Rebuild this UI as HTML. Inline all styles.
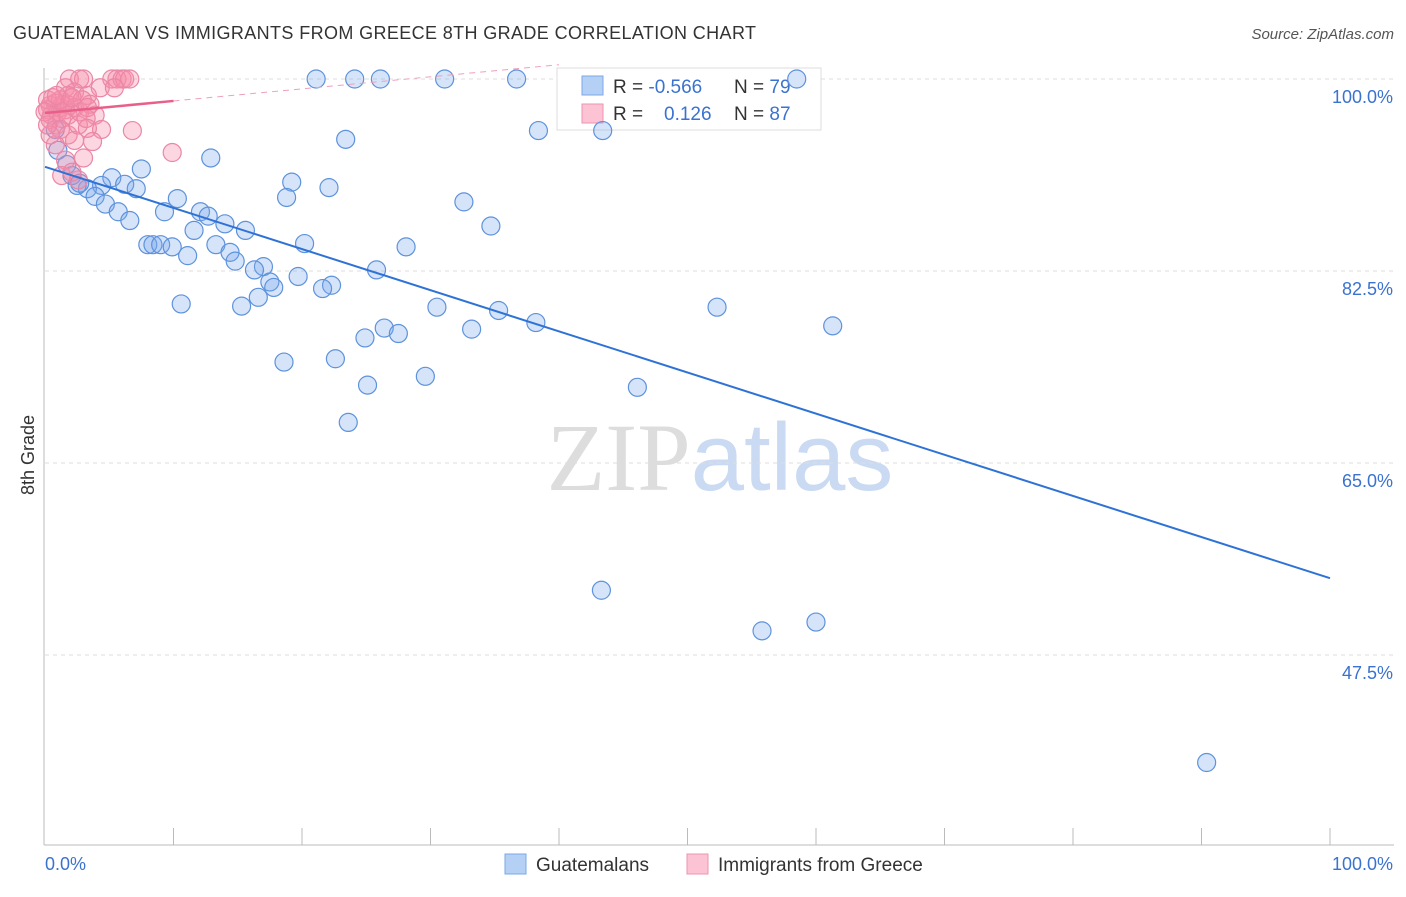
<!DOCTYPE html>
<html><head><meta charset="utf-8"><style>
body{margin:0;background:#fff;font-family:"Liberation Sans",sans-serif}
</style></head><body>
<svg id="c" width="1406" height="892" xmlns="http://www.w3.org/2000/svg" font-family="Liberation Sans, sans-serif">
<text x="13" y="39" font-size="18" fill="#333" textLength="743" lengthAdjust="spacing">GUATEMALAN VS IMMIGRANTS FROM GREECE 8TH GRADE CORRELATION CHART</text>
<text x="1394" y="39" font-size="15" fill="#555" text-anchor="end" font-style="italic">Source: ZipAtlas.com</text>
<text x="720" y="490" font-size="96" text-anchor="middle"><tspan fill="#ddd" font-family="Liberation Serif, serif">ZIP</tspan><tspan fill="#c9daf2">atlas</tspan></text>
<text transform="translate(34,455) rotate(-90)" font-size="18" fill="#333" text-anchor="middle">8th Grade</text>
<g id="grid"></g><g id="axes"></g>
<g>
<rect x="557" y="68" width="264" height="62" fill="#fff" stroke="#ddd"/>
<rect x="582" y="76" width="21" height="19" fill="#b5d0f5" stroke="#7aa7e6"/>
<rect x="582" y="104" width="21" height="19" fill="#fcc3d4" stroke="#ee93b0"/>
<text x="613" y="93" font-size="19" fill="#333">R = <tspan fill="#3a72d0">-0.566</tspan><tspan x="734">N = </tspan><tspan fill="#3a72d0">79</tspan></text>
<text x="613" y="120" font-size="19" fill="#333">R = <tspan x="664" fill="#3a72d0">0.126</tspan><tspan x="734">N = </tspan><tspan fill="#3a72d0">87</tspan></text>
</g>
<g id="marks"></g>
<g>
<rect x="505" y="854" width="21" height="20" fill="#b5d0f5" stroke="#7aa7e6"/>
<text x="536" y="871" font-size="19" fill="#333">Guatemalans</text>
<rect x="687" y="854" width="21" height="20" fill="#fcc3d4" stroke="#ee93b0"/>
<text x="718" y="871" font-size="19" fill="#333">Immigrants from Greece</text>
</g>
</svg>
<script>
const yTicks=[100,82.5,65,47.5];
const yTickLabels=["100.0%","82.5%","65.0%","47.5%"];
const xTickLabels=["0.0%","100.0%"];
const blueX=[21.1,24.1,26.1,31.1,36.7,58.5,38.4,43.4,23.4,12.9,7.5,5.2,6.2,7.1,4.4,3.3,2.5,3.9,19.2,22.1,18.8,10.3,4.7,5.7,9.3,12.1,12.7,6.6,14.0,15.6,11.6,32.6,34.7,8.0,8.4,9.0,9.9,13.3,14.4,11.1,14.8,20.2,28.1,17.0,16.3,25.8,19.7,17.5,17.8,22.3,21.6,16.6,10.6,15.3,30.5,35.3,52.3,38.2,61.3,33.2,26.4,27.5,24.9,18.6,22.6,29.6,25.1,46.1,23.6,43.3,55.8,60.0,90.4,1.0,1.7,2.1,0.8,2.7];
const blueY=[100,100,100,100,100,100,95.3,95.3,94.5,92.8,91.8,91.0,90.4,90.0,90.3,90.0,90.3,89.3,90.6,90.1,89.2,89.1,88.6,87.9,87.9,87.9,87.5,87.1,86.8,86.2,86.2,88.8,86.6,84.9,84.9,84.9,84.7,84.9,84.2,83.9,83.4,85.0,84.7,82.9,82.6,82.6,82.0,81.5,81.0,81.2,80.9,80.1,79.5,79.3,79.2,78.9,79.2,77.8,77.5,77.2,77.3,76.8,76.4,74.2,74.5,72.9,72.1,71.9,68.7,53.4,49.7,50.5,37.7,93.5,92.2,91.2,95.4,90.5];
const pinkX=[1.9,2.7,3.0,5.2,5.6,6.0,6.2,6.6,4.3,5.4,1.6,2.3,3.3,0.4,0.8,1.2,0.2,0.5,1.0,1.4,1.6,1.9,2.3,0.4,0.9,1.3,1.8,2.7,3.5,3.9,1.2,1.8,2.3,1.6,1.3,2.6,0.8,0.4,1.2,1.8,2.9,0.2,0.6,0.9,0,0.2,2.1,3.3,2.6,3.2,4.4,6.8,3.3,3.7,3.0,9.9,2.1];
const pinkY=[100,100,100,100,100,100,100,100,99.2,99.2,99.2,98.8,98.5,97.6,97.8,97.4,97.2,96.7,97.0,97.7,97.2,97.6,97.4,96.3,95.8,96.4,96.7,97.0,97.7,96.7,95.4,94.9,94.4,92.6,91.2,90.8,94.0,94.9,98.1,98.5,98.1,98.1,98.3,98.5,97.0,95.8,98.3,97.4,95.8,96.4,95.4,95.3,95.5,94.3,92.8,93.3,91.5];
const blueTrend=[92.0,54.5];
const pinkTrend=[96.9,98.0];
const NS="http://www.w3.org/2000/svg";
const sx=v=>45+v*12.85, sy=v=>79+(100-v)*192/17.5;
function mk(t,a,p){const e=document.createElementNS(NS,t);for(const k in a)e.setAttribute(k,a[k]);document.getElementById(p).appendChild(e);return e;}
yTicks.forEach((v,i)=>{
 const g=mk('line',{x1:45,x2:1394,y1:sy(v),y2:sy(v),stroke:'#ddd','stroke-dasharray':'4,4'},'grid');
 
 
 const t=mk('text',{x:1393,y:sy(v)+24,'font-size':18,fill:'#3a72d0','text-anchor':'end'},'grid');
 t.textContent=yTickLabels[i];
 
 
});
let ax=mk('line',{x1:44,x2:44,y1:68,y2:845,stroke:'#bbb'},'axes');


ax=mk('line',{x1:44,x2:1394,y1:845,y2:845,stroke:'#bbb'},'axes');


for(let k=1;k<=10;k++){const l=mk('line',{x1:sx(k*10),x2:sx(k*10),y1:828,y2:845,stroke:'#bbb'},'axes');
 
 }
[[0,'start',45],[100,'end',1393]].forEach((d,i)=>{const t=mk('text',{x:d[2],y:870,'font-size':18,fill:'#3a72d0','text-anchor':d[1]},'axes');t.textContent=xTickLabels[i];
 
 });
blueX.forEach((x,i)=>{const c=mk('circle',{cx:sx(x),cy:sy(blueY[i]),r:9,fill:'rgba(120,165,235,0.3)',stroke:'#5d92dc','stroke-width':1.2},'marks');
 
 });
pinkX.forEach((x,i)=>{const c=mk('circle',{cx:sx(x),cy:sy(pinkY[i]),r:9,fill:'rgba(245,140,170,0.35)',stroke:'#eb86a6','stroke-width':1.2},'marks');
 
 });
let tl=mk('line',{x1:sx(0),y1:sy(blueTrend[0]),x2:sx(100),y2:sy(blueTrend[1]),stroke:'#2f72d6','stroke-width':2},'marks');


const ps=(pinkTrend[1]-pinkTrend[0])/10;
tl=mk('line',{x1:sx(0),y1:sy(pinkTrend[0]),x2:sx(10),y2:sy(pinkTrend[1]),stroke:'#e8608a','stroke-width':2.5},'marks');


tl=mk('line',{x1:sx(10),y1:sy(pinkTrend[1]),x2:sx(40),y2:sy(pinkTrend[0]+ps*40),stroke:'#f0a0b8','stroke-width':1,'stroke-dasharray':'6,5'},'marks');


</script>
</body></html>
